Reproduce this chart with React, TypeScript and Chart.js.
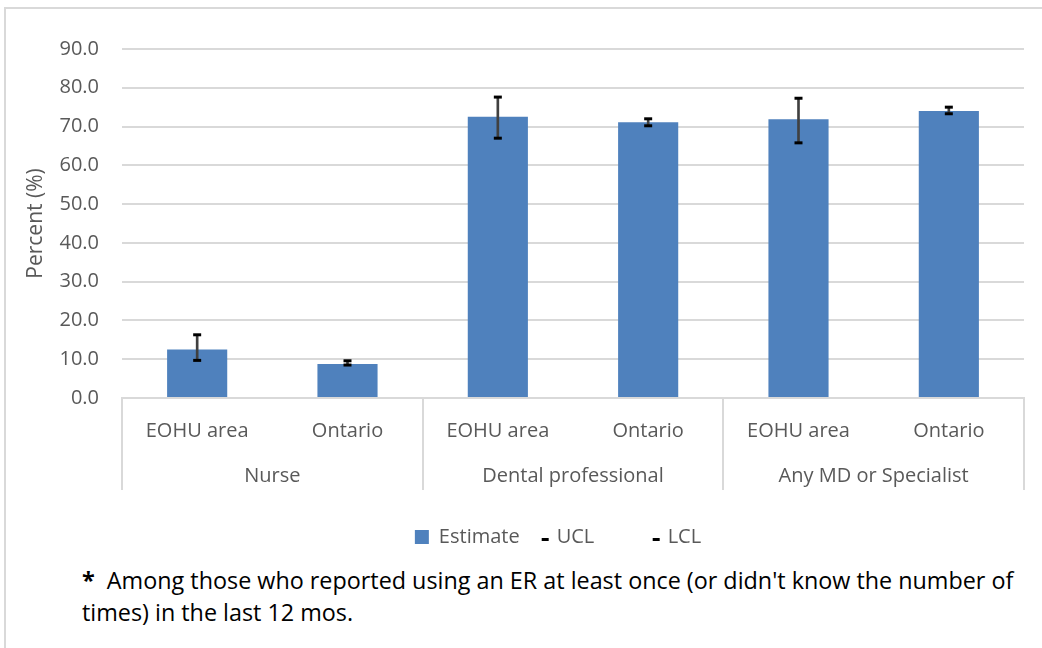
import React, { useEffect, useRef } from "react";
import { Chart, registerables } from "chart.js";

Chart.register(...registerables);

const subLabels = ["EOHU area", "Ontario", "EOHU area", "Ontario", "EOHU area", "Ontario"];
const groupLabels = ["Nurse", "Dental professional", "Any MD or Specialist"];
const estimate = [12.5, 8.8, 72.5, 71.1, 71.9, 74.0];
const ucl = [16.3, 9.6, 77.6, 72.0, 77.3, 75.0];
const lcl = [9.7, 8.5, 67.0, 70.2, 65.8, 73.3];
const seriesNames = ["Estimate", "UCL", "LCL"];
const footLine1 = "  Among those who reported using an ER at least once (or didn't know the number of";
const footLine2 = "times) in the last 12 mos.";

const FONT = "'Open Sans'";
const GREY = "#595959";
const GRID = "#d9d9d9";

const catAxisPlugin = {
  id: "catAxis",
  afterLayout(chart: any) {
    const l = chart.legend;
    if (l) {
      l.left += 44;
      l.right += 44;
    }
  },
  afterDraw(chart: any) {
    const { ctx, chartArea } = chart;
    const x = chart.scales.x;
    const step = x.getPixelForValue(1) - x.getPixelForValue(0);
    const bottom = chartArea.bottom;
    ctx.save();
    ctx.font = `20px ${FONT}`;
    ctx.fillStyle = GREY;
    ctx.textAlign = "center";
    ctx.textBaseline = "alphabetic";
    subLabels.forEach((l, i) => ctx.fillText(l, x.getPixelForValue(i), bottom + 39));
    groupLabels.forEach((g, k) => {
      const cx = (x.getPixelForValue(2 * k) + x.getPixelForValue(2 * k + 1)) / 2;
      ctx.fillText(g, cx, bottom + 84);
    });
    ctx.strokeStyle = GRID;
    ctx.lineWidth = 2;
    for (let k = 0; k <= groupLabels.length; k++) {
      const px = k < groupLabels.length
        ? x.getPixelForValue(2 * k) - step / 2
        : x.getPixelForValue(2 * k - 1) + step / 2;
      ctx.beginPath();
      ctx.moveTo(Math.round(px), bottom);
      ctx.lineTo(Math.round(px), bottom + 92);
      ctx.stroke();
    }
    ctx.restore();
  },
};

export default function App() {
  const ref = useRef<HTMLCanvasElement>(null);

  useEffect(() => {
    const dash = document.createElement("canvas");
    dash.width = 30;
    dash.height = 10;
    const dctx = dash.getContext("2d")!;
    dctx.fillStyle = "#000";
    dctx.fillRect(17, 6, 7, 3);

    const chart = new Chart(ref.current!, {
      type: "bar",
      data: {
        labels: subLabels,
        datasets: [
          {
            type: "bar",
            label: seriesNames[0],
            data: estimate,
            backgroundColor: "#4f81bd",
            borderWidth: 0,
            barPercentage: 0.4,
            categoryPercentage: 1,
            grouped: false,
            order: 3,
          } as any,
          {
            type: "line",
            label: seriesNames[1],
            data: ucl,
            showLine: false,
            pointStyle: "line",
            pointRadius: 4,
            pointHoverRadius: 4,
            pointBorderWidth: 3,
            pointBorderColor: "#000",
            borderColor: "#000",
            backgroundColor: "#000",
            order: 0,
          } as any,
          {
            type: "line",
            label: seriesNames[2],
            data: lcl,
            showLine: false,
            pointStyle: "line",
            pointRadius: 4,
            pointHoverRadius: 4,
            pointBorderWidth: 3,
            pointBorderColor: "#000",
            borderColor: "#000",
            backgroundColor: "#000",
            order: 1,
          } as any,
          {
            type: "bar",
            label: "range",
            data: lcl.map((l, i) => [l, ucl[i]]),
            backgroundColor: "#404040",
            borderWidth: 0,
            barThickness: 2,
            grouped: false,
            order: 2,
          } as any,
        ],
      },
      options: {
        animation: false,
        responsive: false,
        layout: { padding: { left: 4, right: 18, top: 49, bottom: 3 } },
        plugins: {
          tooltip: { enabled: false },
          legend: {
            position: "bottom",
            labels: {
              usePointStyle: true,
              pointStyleWidth: 14,
              boxHeight: 14,
              padding: 13,
              color: GREY,
              font: { family: FONT, size: 20 },
              generateLabels: (c: any) => {
                const items = (Chart.defaults.plugins.legend.labels as any).generateLabels(c);
                return items
                  .filter((it: any) => it.datasetIndex < 3)
                  .sort((a: any, b: any) => a.datasetIndex - b.datasetIndex)
                  .map((it: any) =>
                    it.datasetIndex === 0
                      ? { ...it, pointStyle: "rect", lineWidth: 0, fillStyle: "#4f81bd" }
                      : {
                          ...it,
                          text: it.datasetIndex === 1 ? it.text + "       " : it.text,
                          pointStyle: dash,
                          lineWidth: 0,
                        }
                  );
              },
            },
          },
        },
        scales: {
          x: {
            grid: { display: false },
            border: { display: true, color: GRID, width: 2 },
            ticks: { display: false },
            afterFit: (s: any) => {
              s.height = 116;
            },
          },
          y: {
            min: 0,
            max: 90,
            ticks: {
              stepSize: 10,
              padding: 23,
              color: GREY,
              font: { family: FONT, size: 20 },
              callback: (v: any) => Number(v).toFixed(1),
            },
            grid: { color: GRID, lineWidth: 2, drawTicks: false },
            border: { display: false },
            title: {
              display: true,
              text: "Percent (%)",
              color: GREY,
              font: { family: FONT, size: 21 },
              padding: { top: 19, bottom: 0 },
            },
            afterFit: (s: any) => {
              s.width = 118;
            },
          },
        },
      } as any,
      plugins: [catAxisPlugin],
    });
    return () => chart.destroy();
  }, []);

  return (
    <div
      style={{
        position: "absolute",
        left: 0,
        top: 0,
        width: 1042,
        height: 648,
        overflow: "hidden",
        background: "#fff",
      }}
    >
      <div
        style={{
          position: "absolute",
          left: 4,
          top: 7,
          width: 1100,
          height: 700,
          border: `2px solid ${GRID}`,
          boxSizing: "border-box",
        }}
      />
      <canvas
        ref={ref}
        width={1042}
        height={560}
        style={{ position: "absolute", left: 0, top: 0, display: "block" }}
      />
      <div
        style={{
          position: "absolute",
          left: 82,
          top: 564,
          fontFamily: "'Open Sans'",
          fontSize: 23.35,
          lineHeight: "32px",
          color: "#000",
          whiteSpace: "pre",
        }}
      >
        <span style={{ fontWeight: 700 }}>*</span>
        {footLine1}
        <br />
        {footLine2}
      </div>
    </div>
  );
}
